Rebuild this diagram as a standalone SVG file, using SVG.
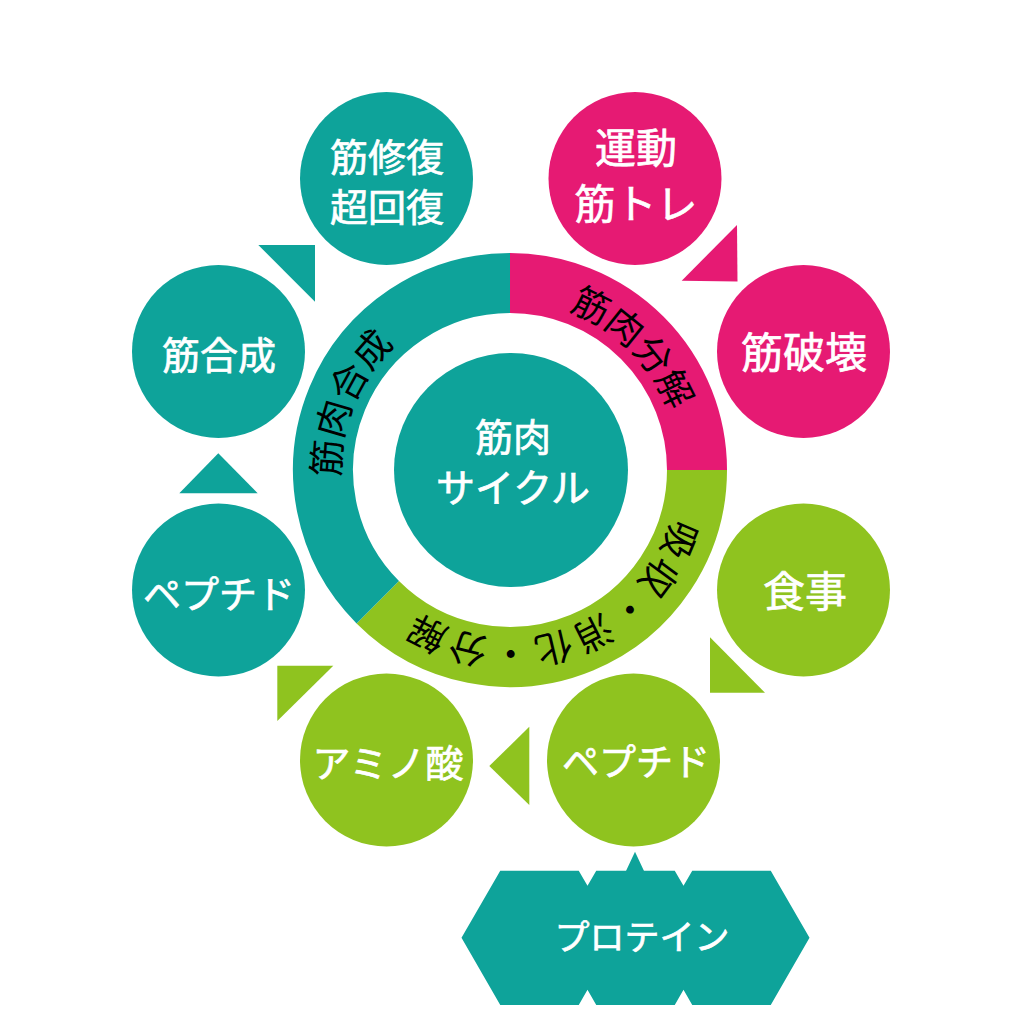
<svg xmlns="http://www.w3.org/2000/svg" width="1024" height="1024" viewBox="0 0 1024 1024">
<defs>
<style>
.teal{fill:#0ea39a}
.mag{fill:#e61a73}
.grn{fill:#8fc31f}
.lbl{font-family:"Noto Sans CJK JP","Noto Sans",sans-serif;font-weight:400;fill:#ffffff;stroke:#ffffff;stroke-width:0.7px;text-anchor:middle}
.ring{font-family:"Noto Sans CJK JP","Noto Sans",sans-serif;font-weight:400;fill:#000000;font-size:37px}
</style>
<path id="pMag" d="M389.79,590.21 A170,170 0 0 1 630.21,349.79 A170,170 0 0 1 389.79,590.21"/>
<path id="pTeal" d="M667.06,535.06 A170,170 0 0 1 352.94,404.94 A170,170 0 0 1 667.06,535.06"/>
<path id="pGrn" d="M451.86,310.25 A170,170 0 0 1 568.14,629.75 A170,170 0 0 1 451.86,310.25"/>
</defs>
<rect width="1024" height="1024" fill="#ffffff"/>

<g id="ring">
<path d="M510,283 A187,187 0 0 1 697,470" fill="none" stroke="#e61a73" stroke-width="60"/>
<path d="M697,470 A187,187 0 0 1 377.78,602.22" fill="none" stroke="#8fc31f" stroke-width="60"/>
<path d="M377.78,602.22 A187,187 0 0 1 510,283" fill="none" stroke="#0ea39a" stroke-width="60"/>
<text class="ring"><textPath href="#pMag" startOffset="50%" text-anchor="middle">筋肉分解</textPath></text>
<text class="ring"><textPath href="#pTeal" startOffset="50%" text-anchor="middle">筋肉合成</textPath></text>
<text class="ring" letter-spacing="3"><textPath href="#pGrn" startOffset="50%" text-anchor="middle">吸収・消化・分解</textPath></text>
</g>

<g id="center">
<circle class="teal" cx="511" cy="470" r="117"/>
<text class="lbl" x="513" y="451" font-size="38">筋肉</text>
<text class="lbl" x="513" y="502" font-size="39">サイクル</text>
</g>

<g id="n-recovery">
<circle class="teal" cx="386.5" cy="178.5" r="86.5"/>
<text class="lbl" x="387" y="171" font-size="38">筋修復</text>
<text class="lbl" x="387" y="221" font-size="38">超回復</text>
</g>
<g id="n-exercise">
<circle class="mag" cx="635" cy="178.5" r="86.5"/>
<text class="lbl" x="636" y="163" font-size="41">運動</text>
<text class="lbl" x="636" y="219" font-size="41">筋トレ</text>
</g>
<g id="n-destroy">
<circle class="mag" cx="803.5" cy="351.5" r="86.5"/>
<text class="lbl" x="804" y="368" font-size="42">筋破壊</text>
</g>
<g id="n-synthesis">
<circle class="teal" cx="218.5" cy="351.5" r="86.5"/>
<text class="lbl" x="219" y="369" font-size="38">筋合成</text>
</g>
<g id="n-peptide-t">
<circle class="teal" cx="218.5" cy="590" r="86.5"/>
<text class="lbl" x="219" y="608" font-size="38">ペプチド</text>
</g>
<g id="n-amino">
<circle class="grn" cx="386.5" cy="760" r="86.5"/>
<text class="lbl" x="388" y="777" font-size="38">アミノ酸</text>
</g>
<g id="n-meal">
<circle class="grn" cx="803.5" cy="590" r="86.5"/>
<text class="lbl" x="805" y="607" font-size="42">食事</text>
</g>
<g id="n-peptide-g">
<circle class="grn" cx="633.5" cy="760" r="86.5"/>
<text class="lbl" x="636" y="776" font-size="37">ペプチド</text>
</g>
<g id="n-protein">
<polygon class="teal" points="461.5,937.8 500.25,870.7 578.75,870.7 587.5,885.8 596.25,870.7 674.75,870.7 683.5,885.8 692.25,870.7 770.75,870.7 809.5,937.8 770.75,1004.9 692.25,1004.9 683.5,989.8 674.75,1004.9 596.25,1004.9 587.5,989.8 578.75,1004.9 500.25,1004.9"/>
<text class="lbl" x="642" y="950" font-size="35">プロテイン</text>
</g>

<g id="connectors">
<polygon class="teal" points="258.3,245 315,245 315,301.7"/>
<polygon class="mag" points="737,225 737.5,281.5 681.7,280.7"/>
<polygon class="grn" points="710,637.3 710,692.7 765,692.7"/>
<polygon class="grn" points="489.3,766 529.3,726.7 529.3,805"/>
<polygon class="grn" points="277.3,665.7 333.3,665.7 277.3,721"/>
<polygon class="teal" points="218.3,453.3 257.7,493.3 179.3,493.3"/>
<polygon class="teal" points="626,871 635,851.7 644,871"/>
</g>
</svg>
